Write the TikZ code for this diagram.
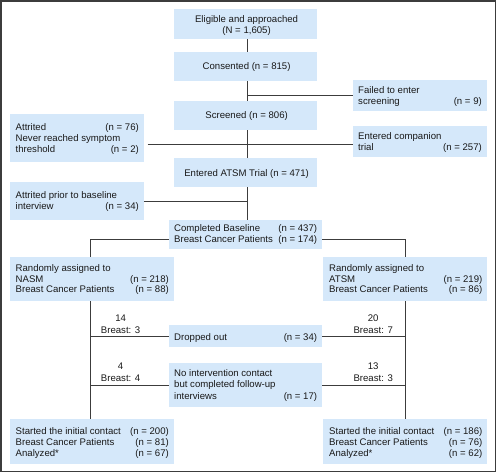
\documentclass[tikz,border=0pt]{standalone}
\usepackage{fontspec}
\setmainfont{Liberation Sans}
\definecolor{boxfill}{RGB}{213,232,250}
\definecolor{linecol}{RGB}{60,60,60}
\tikzset{
  x=1pt, y=-1pt,
  box/.style={draw=none, fill=boxfill, inner sep=0pt},
  txt/.style={inner sep=0pt, text height=7pt, text depth=0pt, font=\fontsize{9.6}{11}\selectfont, text=black!90},
  lt/.style={txt, anchor=west},
  rt/.style={txt, anchor=east},
  ct/.style={txt, anchor=center},
  conn/.style={draw=linecol, line width=1pt},
}
\begin{document}
\begin{tikzpicture}
\useasboundingbox (0,0) rectangle (496,472);
\draw[linecol, line width=1.5pt] (0.75,0.75) rectangle (495.25,471.25);
% boxes
\node[box, minimum width=143pt, minimum height=30pt] (elig) at (245.5,24) {};
\node[box, minimum width=143pt, minimum height=29pt] (cons) at (245.5,66.5) {};
\node[box, minimum width=133.5pt, minimum height=31pt] (fail) at (420,95.5) {};
\node[box, minimum width=143pt, minimum height=29pt] (scr) at (245.5,115.5) {};
\node[box, minimum width=133.5pt, minimum height=48pt] (attr) at (76.8,138) {};
\node[box, minimum width=133.5pt, minimum height=31pt] (comp) at (420,141.5) {};
\node[box, minimum width=143pt, minimum height=29pt] (ent) at (245.5,172.5) {};
\node[box, minimum width=133.5pt, minimum height=38pt] (attr2) at (76.8,201) {};
\node[box, minimum width=152.7pt, minimum height=29pt] (base) at (245.5,234.5) {};
\node[box, minimum width=164pt, minimum height=44pt] (nasm) at (92,279) {};
\node[box, minimum width=164pt, minimum height=44pt] (atsm) at (405.3,279) {};
\node[box, minimum width=152.7pt, minimum height=22pt] (drop) at (245.5,336) {};
\node[box, minimum width=152.7pt, minimum height=44pt] (noint) at (245.5,385) {};
\node[box, minimum width=164pt, minimum height=45pt] (endl) at (92,441.5) {};
\node[box, minimum width=164pt, minimum height=45pt] (endr) at (405.3,441.5) {};
% texts
\node[ct] (t1) at (246.6,18.7) {Eligible and approached};
\node[ct] (t2) at (246.6,29.7) {(N = 1,605)};
\node[ct] (t3) at (246.6,66.3) {Consented (n = 815)};
\node[lt] (t4) at (358,90) {Failed to enter};
\node[lt] (t5) at (358,101) {screening};
\node[rt] (t6) at (482,101) {(n = 9)};
\node[ct] (t7) at (246.6,115.3) {Screened (n = 806)};
\node[lt] (t8) at (15.5,127) {Attrited};
\node[rt] (t9) at (139,127) {(n = 76)};
\node[lt] (t10) at (15.5,138) {Never reached symptom};
\node[lt] (t11) at (15.5,149) {threshold};
\node[rt] (t12) at (139,149) {(n = 2)};
\node[lt] (t13) at (358,136.3) {Entered companion};
\node[lt] (t14) at (358,147.3) {trial};
\node[rt] (t15) at (482,147.3) {(n = 257)};
\node[ct] (t16) at (246.6,173) {Entered ATSM Trial (n = 471)};
\node[lt] (t17) at (15.5,194.7) {Attrited prior to baseline};
\node[lt] (t18) at (15.5,205.7) {interview};
\node[rt] (t19) at (139,205.7) {(n = 34)};
\node[lt] (t20) at (174,228.3) {Completed Baseline};
\node[rt] (t21) at (317.3,228.3) {(n = 437)};
\node[lt] (t22) at (174,239.3) {Breast Cancer Patients};
\node[rt] (t23) at (317.3,239.3) {(n = 174)};
\node[lt] (t24) at (15.5,267.7) {Randomly assigned to};
\node[lt] (t25) at (15.5,278.5) {NASM};
\node[rt] (t26) at (169,278.5) {(n = 218)};
\node[lt] (t27) at (15.5,289.3) {Breast Cancer Patients};
\node[rt] (t28) at (169,289.3) {(n = 88)};
\node[lt] (t29) at (329,267.7) {Randomly assigned to};
\node[lt] (t30) at (329,278.5) {ATSM};
\node[rt] (t31) at (482.5,278.5) {(n = 219)};
\node[lt] (t32) at (329,289.3) {Breast Cancer Patients};
\node[rt] (t33) at (482.5,289.3) {(n = 86)};
\node[lt] (t34) at (174,336.7) {Dropped out};
\node[rt] (t35) at (317.3,336.7) {(n = 34)};
\node[lt] (t36) at (174,373) {No intervention contact};
\node[lt] (t37) at (174,384.4) {but completed follow-up};
\node[lt] (t38) at (174,395.8) {interviews};
\node[rt] (t39) at (317.3,395.8) {(n = 17)};
\node[lt] (t40) at (15.5,430.7) {Started the initial contact};
\node[rt] (t41) at (169,430.7) {(n = 200)};
\node[lt] (t42) at (15.5,441.8) {Breast Cancer Patients};
\node[rt] (t43) at (169,441.8) {(n = 81)};
\node[lt] (t44) at (15.5,453) {Analyzed*};
\node[rt] (t45) at (169,453) {(n = 67)};
\node[lt] (t46) at (329,430.7) {Started the initial contact};
\node[rt] (t47) at (482.5,430.7) {(n = 186)};
\node[lt] (t48) at (329,441.8) {Breast Cancer Patients};
\node[rt] (t49) at (482.5,441.8) {(n = 76)};
\node[lt] (t50) at (329,453) {Analyzed*};
\node[rt] (t51) at (482.5,453) {(n = 62)};
% connector labels
\node[ct] (l1) at (120.6,318.3) {14};
\node[ct] (l2) at (120.6,329.7) {Breast: 3};
\node[ct] (l3) at (373.2,318.3) {20};
\node[ct] (l4) at (373.2,329.7) {Breast: 7};
\node[ct] (l5) at (120.6,366.3) {4};
\node[ct] (l6) at (120.6,377.7) {Breast: 4};
\node[ct] (l7) at (373.2,366.3) {13};
\node[ct] (l8) at (373.2,377.7) {Breast: 3};
% connectors
\coordinate (trunk) at (247.2,0);
\coordinate (lx) at (90,0);
\coordinate (rx) at (405,0);
\coordinate (jf) at (247.2,95);
\coordinate (jsl) at (147.7,144);
\coordinate (jb) at (0,239);
\draw[conn] (elig.south -| trunk) -- (cons.north -| trunk);
\draw[conn] (cons.south -| trunk) -- (scr.north -| trunk);
\draw[conn] (jf) -- (fail.west |- jf);
\draw[conn] (scr.south -| trunk) -- (ent.north -| trunk);
\draw[conn] (jsl) -- (comp.west |- jsl);
\draw[conn] (ent.south -| trunk) -- (base.north -| trunk);
\draw[conn] (attr2.east) -- (attr2.east -| trunk);
\draw[conn] (base.west |- jb) -| (lx |- nasm.north);
\draw[conn] (base.east |- jb) -| (rx |- atsm.north);
\draw[conn] (lx |- nasm.south) -- (lx |- endl.north);
\draw[conn] (rx |- atsm.south) -- (rx |- endr.north);
\draw[conn] (lx |- drop.west) -- (drop.west);
\draw[conn] (drop.east) -- (rx |- drop.east);
\draw[conn] (lx |- noint.west) -- (noint.west);
\draw[conn] (noint.east) -- (rx |- noint.east);
\end{tikzpicture}
\end{document}
